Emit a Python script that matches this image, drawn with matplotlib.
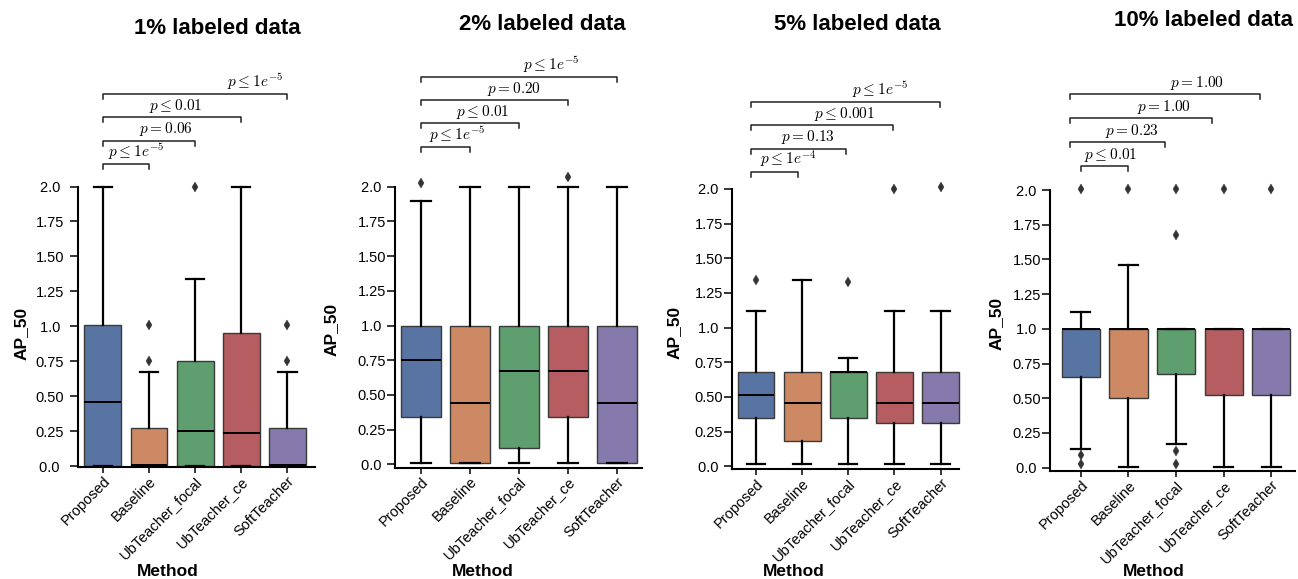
"""AP_50 distributions per method at four label ratios, with significance brackets."""

import matplotlib

matplotlib.use("Agg")
import matplotlib.pyplot as plt

plt.rcParams["font.family"] = ["Liberation Sans", "DejaVu Sans"]
plt.rcParams["mathtext.fontset"] = "cm"

W, H = 1298, 579

methods = ["Proposed", "Baseline", "UbTeacher_focal", "UbTeacher_ce", "SoftTeacher"]
titles = ["1% labeled data", "2% labeled data", "5% labeled data", "10% labeled data"]
colors = ["#5874a3", "#cc8963", "#5f9e6e", "#b55d60", "#857aab"]

ytick_vals = [0.0, 0.25, 0.5, 0.75, 1.0, 1.25, 1.5, 1.75, 2.0]
ytick_labels = ["0.0 ", "0.25", "0.50", "0.75", "1.0 ", "1.25", "1.50", "1.75", "2.0 "]

q1 = [
    [0.0, 0.0, 0.0, 0.0, 0.0],
    [0.339, 0.007, 0.115, 0.339, 0.007],
    [0.348, 0.182, 0.348, 0.31, 0.31],
    [0.651, 0.504, 0.673, 0.525, 0.525],
]
med = [
    [0.46, 0.01, 0.253, 0.238, 0.01],
    [0.751, 0.44, 0.67, 0.67, 0.44],
    [0.512, 0.459, 0.68, 0.459, 0.459],
    [1.0, 1.0, 1.0, 1.0, 1.0],
]
q3 = [
    [1.007, 0.274, 0.753, 0.95, 0.274],
    [1.0, 1.0, 1.0, 1.0, 1.0],
    [0.68, 0.68, 0.68, 0.68, 0.68],
    [1.0, 1.0, 1.0, 1.0, 1.0],
]
whislo = [
    [0.0, 0.0, 0.0, 0.0, 0.0],
    [0.007, 0.007, 0.007, 0.007, 0.007],
    [0.017, 0.017, 0.017, 0.017, 0.017],
    [0.133, 0.007, 0.171, 0.007, 0.007],
]
whishi = [
    [2.0, 0.675, 1.338, 2.0, 0.675],
    [1.895, 2.0, 2.0, 2.0, 2.0],
    [1.12, 1.344, 0.779, 1.12, 1.12],
    [1.124, 1.46, 1.0, 1.0, 1.0],
]
fliers = [
    [[], [0.751, 1.009], [2.0], [], [0.751, 1.009]],
    [[2.024], [], [], [2.07], []],
    [[1.344], [], [1.332], [2.0], [2.017]],
    [[2.007, 0.091, 0.024], [2.007], [2.007, 1.676, 0.122, 0.024], [2.007], [2.007]],
]

# significance annotations: label, bracket span (category units), text x
p_labels = [
    [r"$p \leq 1e^{-5}$", r"$p = 0.06$", r"$p \leq 0.01$", r"$p \leq 1e^{-5}$"],
    [r"$p \leq 1e^{-5}$", r"$p \leq 0.01$", r"$p = 0.20$", r"$p \leq 1e^{-5}$"],
    [r"$p \leq 1e^{-4}$", r"$p = 0.13$", r"$p \leq 0.001$", r"$p \leq 1e^{-5}$"],
    [r"$p \leq 0.01$", r"$p = 0.23$", r"$p = 1.00$", r"$p = 1.00$"],
]
bracket_spans = [
    [(0, 1), (0, 2), (0, 3), (0, 4)],
    [(0, 1), (0, 2), (0, 3), (0, 4)],
    [(-0.1, 0.92), (-0.1, 1.94), (-0.1, 2.96), (-0.1, 3.98)],
    [(0, 1), (-0.24, 1.76), (-0.24, 2.76), (-0.24, 3.76)],
]
label_x = [
    [0.72, 1.37, 1.57, 3.30],
    [0.745, 1.27, 1.89, 2.65],
    [0.71, 1.13, 1.92, 2.69],
    [0.63, 1.08, 1.75, 2.43],
]

# panel layout in pixels: left, right, top (y=2.0), bottom spine
panel_px = [(78, 315, 186.5, 467), (395, 642, 186.7, 467.7), (732, 959, 189, 469.3), (1050, 1295, 190, 471)]
panel_xlim = [(-0.54, 4.6), (-0.53, 4.51), (-0.52, 4.4), (-0.65, 4.5)]
panel_ylo = [-0.007, -0.024, -0.022, -0.024]
ytick_pad = [4, 0.5, 0.5, 0.5]
bracket_base = [2.162, 2.288, 2.125, 2.175]
bracket_step = [0.167, 0.168, 0.167, 0.173]
title_px = [(217.5, 28), (542, 25), (857.5, 25), (1204, 20)]
xlabel_px = [(167.5, 571), (483, 571), (794, 571), (1154, 571)]
ylabel_px = [(21, 333), (331, 329), (674, 332), (996, 323)]


def fig_frac(x, y):
    return x / W, 1 - y / H


fig = plt.figure(figsize=(W / 100, H / 100), dpi=100)

for k in range(4):
    left, right, top, bottom = panel_px[k]
    ax = fig.add_axes([left / W, 1 - bottom / H, (right - left) / W, (bottom - top) / H])

    stats = []
    for i, name in enumerate(methods):
        stats.append({
            "label": name, "med": med[k][i], "q1": q1[k][i], "q3": q3[k][i],
            "whislo": whislo[k][i], "whishi": whishi[k][i], "fliers": fliers[k][i],
        })
    parts = ax.bxp(
        stats, positions=range(len(methods)), widths=0.8, patch_artist=True,
        boxprops=dict(edgecolor="#3a3a3a", linewidth=1.0),
        whiskerprops=dict(color="black", linewidth=1.6),
        capprops=dict(color="black", linewidth=1.6),
        medianprops=dict(color="black", linewidth=1.4),
        flierprops=dict(marker="d", markersize=5, markerfacecolor="#333333",
                        markeredgecolor="#333333", markeredgewidth=0.3),
    )
    for patch, c in zip(parts["boxes"], colors):
        patch.set_facecolor(c)
    for group in parts.values():
        for artist in group:
            artist.set_clip_on(False)

    ax.set_xlim(*panel_xlim[k])
    ax.set_ylim(panel_ylo[k], 2.0)
    ax.set_yticks(ytick_vals)
    ax.set_yticklabels(ytick_labels, fontsize=10.5)
    ax.set_xticks(range(len(methods)))
    ax.set_xticklabels(methods, fontsize=10.5, rotation=45, ha="right", va="top",
                       rotation_mode="anchor")
    ax.tick_params(axis="y", length=6, width=1.1, pad=ytick_pad[k])
    ax.tick_params(axis="x", length=4, width=1.1, pad=1)
    for side in ["top", "right"]:
        ax.spines[side].set_visible(False)
    for side in ["left", "bottom"]:
        ax.spines[side].set_linewidth(1.5)

    ax.set_xlabel("Method", fontsize=12.5, fontweight="bold", va="center")
    ax.xaxis.set_label_coords(*fig_frac(*xlabel_px[k]), transform=fig.transFigure)
    ax.set_ylabel("AP_50", fontsize=12.5, fontweight="bold", va="center")
    ax.yaxis.set_label_coords(*fig_frac(*ylabel_px[k]), transform=fig.transFigure)

    fig.text(*fig_frac(*title_px[k]), titles[k], fontsize=16, fontweight="bold",
             ha="center", va="center")

    # significance brackets above the axes
    tick_len = 0.036
    for j, (x0, x1) in enumerate(bracket_spans[k]):
        y = bracket_base[k] + j * bracket_step[k]
        ax.plot([x0, x0, x1, x1], [y - tick_len, y, y, y - tick_len],
                color="#222222", linewidth=1.1, clip_on=False)
        ax.annotate(p_labels[k][j], xy=(label_x[k][j], y), xytext=(0, 1.5),
                    textcoords="offset points", ha="center", va="bottom",
                    fontsize=11, annotation_clip=False)

fig.savefig("out.png", dpi=100)
